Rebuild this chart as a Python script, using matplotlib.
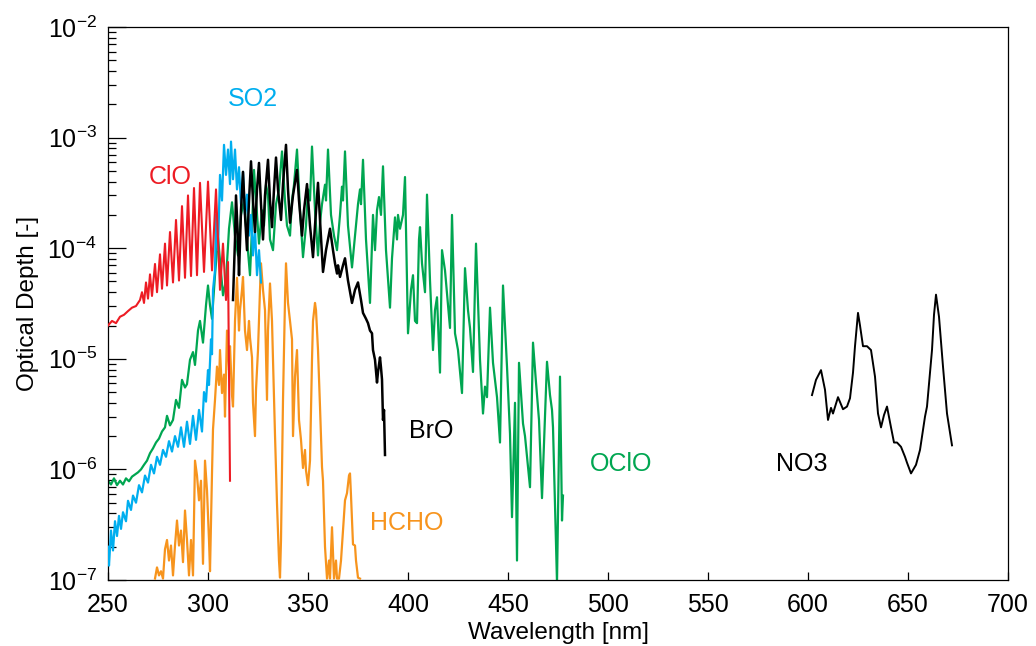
import math
import matplotlib
matplotlib.use("Agg")
import matplotlib.pyplot as plt
from matplotlib.ticker import FixedLocator, FuncFormatter, LogLocator, NullFormatter

plt.rcParams['font.family'] = ['Liberation Sans', 'DejaVu Sans']
plt.rcParams['mathtext.fontset'] = 'custom'
plt.rcParams['mathtext.rm'] = 'Liberation Sans'
plt.rcParams['mathtext.it'] = 'Liberation Sans:italic'
plt.rcParams['mathtext.bf'] = 'Liberation Sans:bold'

# ---- spectra (wavelength nm, optical depth) ----
clo_wl = [250.0, 252.0, 254.0, 256.0, 258.0, 260.0, 262.0, 264.0, 266.0, 267.0,
          268.0, 269.0, 270.0, 271.0, 272.0, 273.5, 274.5, 276.0, 277.0, 278.5,
          279.5, 281.0, 282.5, 284.0, 285.5, 287.0, 288.5, 290.0, 291.5, 293.0,
          294.5, 296.0, 298.0, 300.0, 302.0, 304.0, 306.0, 307.5, 309.0, 310.0, 311.0]
clo_od = [2.0e-5, 2.2e-5, 2.1e-5, 2.4e-5, 2.5e-5, 2.7e-5, 2.9e-5, 3.0e-5, 3.4e-5, 4.0e-5,
          3.2e-5, 4.9e-5, 3.5e-5, 5.8e-5, 3.7e-5, 7.2e-5, 4.0e-5, 8.8e-5, 4.3e-5, 1.1e-4,
          4.6e-5, 1.4e-4, 4.9e-5, 1.8e-4, 5.1e-5, 2.4e-4, 5.4e-5, 3.0e-4, 5.6e-5, 3.5e-4,
          5.7e-5, 3.9e-4, 6.1e-5, 4.0e-4, 6.3e-5, 3.4e-4, 4.2e-5, 1.1e-4, 3.4e-5, 7.5e-5, 7.9e-7]

so2_wl = [250.0, 250.5, 251.5, 252.5, 253.5, 254.5, 255.5, 256.5, 257.5, 259.0,
          260.0, 261.5, 262.5, 264.0, 265.5, 267.0, 268.5, 270.0, 271.5, 273.0,
          274.5, 276.0, 277.5, 279.0, 280.5, 282.0, 283.5, 285.0, 286.5, 288.0,
          289.5, 291.0, 292.5, 294.0, 295.5, 297.0, 298.0, 299.0, 300.0, 300.5,
          301.5, 302.0, 302.5, 303.5, 304.0, 305.0, 306.0, 307.0, 308.0, 309.0,
          310.0, 311.0, 311.5, 312.5, 313.5, 314.5, 315.5, 316.5, 317.5, 318.5,
          319.5, 320.5, 321.5, 322.5, 323.5, 324.5, 325.5, 326.5]
so2_od = [2.0e-7, 1.35e-7, 2.8e-7, 1.85e-7, 3.4e-7, 2.5e-7, 3.8e-7, 2.9e-7, 4.1e-7, 3.4e-7,
          5.2e-7, 4.3e-7, 5.8e-7, 5.0e-7, 7.2e-7, 6.2e-7, 8.8e-7, 7.6e-7, 1.1e-6, 9.2e-7,
          1.3e-6, 1.1e-6, 1.5e-6, 1.3e-6, 1.8e-6, 1.45e-6, 2.0e-6, 1.6e-6, 2.4e-6, 1.6e-6,
          2.7e-6, 1.7e-6, 3.05e-6, 1.85e-6, 3.45e-6, 2.2e-6, 5.0e-6, 4.1e-6, 7.9e-6, 5.8e-6,
          1.5e-5, 1.1e-5, 4.2e-5, 6.3e-5, 2.0e-4, 9.6e-5, 4.6e-4, 2.7e-4, 8.6e-4, 4.6e-4,
          7.8e-4, 3.8e-4, 9.2e-4, 4.2e-4, 7.8e-4, 3.4e-4, 5.4e-4, 2.5e-4, 4.9e-4, 2.0e-4,
          3.05e-4, 1.3e-4, 2.0e-4, 8.6e-5, 1.5e-4, 5.7e-5, 9.6e-5, 4.9e-5]

bro_wl = [312.5, 313.5, 314.0, 315.0, 315.5, 316.5, 317.5, 318.5, 319.5, 320.5,
          321.5, 322.5, 323.5, 324.5, 325.5, 326.5, 327.5, 328.5, 330.0, 331.0,
          332.0, 333.0, 334.0, 335.0, 336.5, 337.5, 339.0, 340.0, 341.0, 342.5,
          344.5, 345.5, 347.0, 348.0, 349.5, 351.0, 352.5, 353.5, 355.0, 356.0,
          357.5, 359.0, 361.0, 362.5, 363.5, 364.5, 365.0, 366.0, 367.5, 368.5,
          370.0, 372.0, 373.5, 375.0, 376.5, 377.5, 379.0, 380.0, 381.0, 382.0,
          382.5, 383.5, 384.5, 385.0, 386.0, 386.5, 387.0, 387.5, 388.0, 388.5]
bro_od = [3.4e-5, 1.2e-4, 3.0e-4, 1.2e-4, 5.7e-5, 2.2e-4, 4.9e-4, 2.0e-4, 9.6e-5, 2.7e-4,
          6.1e-4, 2.7e-4, 1.4e-4, 3.4e-4, 5.9e-4, 2.5e-4, 1.2e-4, 3.0e-4, 6.3e-4, 2.7e-4,
          1.55e-4, 3.4e-4, 6.6e-4, 3.4e-4, 1.8e-4, 3.8e-4, 8.6e-4, 3.4e-4, 1.7e-4, 3.0e-4,
          5.1e-4, 2.7e-4, 1.3e-4, 2.2e-4, 3.8e-4, 1.6e-4, 8.3e-5, 1.6e-4, 3.9e-4, 1.8e-4,
          6.1e-5, 9.6e-5, 1.5e-4, 9.6e-5, 7.3e-5, 5.9e-5, 7.0e-5, 5.5e-5, 7.0e-5, 8.1e-5,
          5.1e-5, 3.2e-5, 4.2e-5, 4.9e-5, 3.4e-5, 2.6e-5, 2.3e-5, 2.1e-5, 1.8e-5, 1.7e-5,
          1.2e-5, 9.8e-6, 6.1e-6, 7.6e-6, 1.03e-5, 8.3e-6, 6.5e-6, 2.8e-6, 3.45e-6, 1.35e-6]

oclo_wl = [250.0, 251.5, 253.0, 254.5, 256.0, 257.5, 259.0, 260.5, 262.0, 263.5,
           265.0, 266.5, 268.0, 269.5, 271.0, 272.5, 274.0, 275.5, 277.0, 278.5,
           279.5, 281.0, 282.5, 284.0, 285.5, 287.0, 288.5, 289.5, 291.0, 292.5,
           293.5, 295.0, 296.0, 297.5, 299.0, 300.0, 301.0, 302.0, 303.5, 305.0,
           306.0, 307.5, 309.0, 310.5, 312.0, 313.5, 315.0, 316.5, 318.0, 319.5,
           321.0, 322.0, 323.0, 324.5, 325.5, 327.0, 328.0, 329.0, 330.0, 331.0,
           332.5, 334.0, 335.5, 337.0, 338.5, 339.5, 341.0, 342.0, 343.0, 344.5,
           346.0, 347.5, 349.0, 350.0, 351.0, 352.0, 353.5, 355.0, 356.0, 357.0,
           358.5, 359.0, 360.0, 361.5, 363.0, 364.5, 366.0, 367.0, 367.5, 368.5,
           370.0, 372.0, 373.5, 375.0, 376.0, 376.5, 377.5, 379.0, 381.0, 382.5,
           383.5, 384.5, 385.5, 386.5, 387.5, 389.0, 391.0, 392.0, 393.5, 394.5,
           395.0, 396.0, 397.5, 398.5, 400.0, 401.5, 402.5, 403.5, 404.5, 405.5,
           406.0, 407.0, 408.5, 409.5, 411.0, 412.5, 413.5, 414.5, 416.0, 417.0,
           418.5, 421.0, 422.0, 423.5, 425.0, 427.0, 428.5, 430.0, 431.0, 432.5,
           434.0, 436.0, 437.5, 438.5, 439.5, 441.0, 442.5, 444.5, 446.0, 447.5,
           449.5, 451.0, 452.0, 453.5, 454.5, 455.5, 457.5, 458.5, 461.0, 462.5,
           464.0, 465.5, 467.0, 469.5, 471.0, 472.0, 472.5, 474.5, 476.0, 477.0, 477.5]
oclo_od = [7.9e-7, 7.3e-7, 8.3e-7, 7.2e-7, 7.9e-7, 7.3e-7, 8.3e-7, 7.8e-7, 8.6e-7, 9.0e-7,
           9.4e-7, 1.0e-6, 1.1e-6, 1.2e-6, 1.4e-6, 1.55e-6, 1.75e-6, 1.9e-6, 2.2e-6, 2.4e-6,
           3.05e-6, 2.5e-6, 2.8e-6, 4.25e-6, 3.6e-6, 6.45e-6, 5.5e-6, 5.9e-6, 9.8e-6, 1.15e-5,
           8.8e-6, 1.8e-5, 2.2e-5, 1.4e-5, 3.05e-5, 4.6e-5, 3.05e-5, 2.3e-5, 5.7e-5, 1.25e-4,
           7.8e-5, 3.75e-5, 5.1e-5, 1.5e-4, 2.6e-4, 1.3e-4, 8.6e-5, 2.0e-4, 2.7e-4, 1.2e-4,
           5.7e-5, 1.5e-4, 5.1e-4, 2.0e-4, 1.1e-4, 2.2e-4, 1.6e-4, 3.75e-4, 3.05e-4, 1.2e-4,
           9.6e-5, 2.5e-4, 3.4e-4, 7.5e-4, 2.7e-4, 1.6e-4, 1.3e-4, 2.7e-4, 3.75e-4, 7.8e-4,
           2.2e-4, 8.3e-5, 1.6e-4, 3.4e-4, 2.7e-4, 8.3e-4, 2.2e-4, 8.6e-5, 1.7e-4, 2.5e-4,
           3.75e-4, 2.7e-4, 7.8e-4, 2.0e-4, 1.3e-4, 9.6e-5, 2.0e-4, 3.6e-4, 2.7e-4, 7.5e-4,
           1.6e-4, 6.7e-5, 1.3e-4, 2.5e-4, 3.4e-4, 2.5e-4, 6.3e-4, 1.2e-4, 3.2e-5, 2.0e-4,
           9.6e-5, 2.2e-4, 2.9e-4, 2.0e-4, 5.5e-4, 9.6e-5, 2.9e-5, 8.1e-5, 1.9e-4, 1.2e-4,
           2.0e-4, 1.5e-4, 2.0e-4, 4.4e-4, 1.7e-5, 4.2e-5, 5.7e-5, 2.2e-5, 2.1e-5, 1.2e-4,
           1.55e-4, 7.3e-5, 4.0e-5, 3.05e-4, 5.1e-5, 1.2e-5, 2.75e-5, 3.6e-5, 7.5e-6, 9.6e-5,
           6.3e-5, 1.9e-5, 2.0e-4, 1.7e-5, 1.2e-5, 4.9e-6, 6.6e-5, 2.75e-5, 1.9e-5, 7.6e-6,
           1.1e-4, 9.8e-6, 3.2e-6, 5.6e-6, 4.5e-6, 2.9e-5, 9.2e-6, 4.5e-6, 1.75e-6, 4.6e-5,
           8.5e-6, 2.1e-6, 3.7e-7, 4.0e-6, 1.5e-7, 9.2e-6, 2.6e-6, 2.0e-6, 6.9e-7, 1.4e-5,
           6.1e-6, 2.8e-6, 5.5e-7, 9.4e-6, 4.7e-6, 3.45e-6, 2.4e-6, 9.5e-8, 6.9e-6, 3.45e-7, 5.8e-7]

hcho_wl = [273.5, 274.5, 275.5, 276.5, 277.5, 278.5, 279.5, 280.5, 281.5, 282.5,
           283.5, 284.5, 285.5, 286.5, 287.5, 288.5, 289.5, 290.5, 291.5, 292.5,
           293.5, 294.5, 295.5, 296.5, 297.5, 298.5, 299.5, 300.5, 301.0, 302.0,
           302.5, 303.5, 304.5, 305.5, 306.0, 307.0, 308.0, 308.5, 309.5, 310.5,
           311.0, 312.0, 312.5, 313.5, 314.5, 315.5, 316.0, 317.0, 317.5, 318.5,
           319.5, 320.5, 321.0, 322.0, 322.5, 323.5, 324.0, 325.0, 326.0, 326.5,
           327.5, 328.5, 329.5, 330.0, 331.0, 332.0, 332.5, 333.5, 334.5, 335.5,
           336.0, 336.5, 337.5, 338.5, 339.0, 340.0, 341.0, 342.0, 342.5, 343.5,
           344.5, 345.5, 346.5, 347.5, 348.5, 349.0, 350.0, 351.0, 352.0, 352.5,
           353.5, 354.0, 355.0, 356.0, 357.0, 357.5, 358.5, 359.5, 360.5, 361.0,
           362.0, 363.0, 364.0, 364.5, 365.5, 366.5, 367.5, 368.5, 369.5, 370.5,
           371.0, 371.5, 372.5, 373.5, 374.0, 375.0, 376.0]
hcho_od = [1.03e-7, 1.3e-7, 1.1e-7, 1.2e-7, 1.03e-7, 1.9e-7, 2.3e-7, 1.5e-7, 2.05e-7, 1.1e-7,
           2.05e-7, 3.45e-7, 2.05e-7, 2.8e-7, 1.45e-7, 4.25e-7, 2.3e-7, 1.1e-7, 2.3e-7, 1.1e-7,
           1.2e-6, 8.8e-7, 5.25e-7, 7.9e-7, 1.4e-7, 1.2e-6, 6.45e-7, 2.3e-7, 1.2e-7, 9.2e-7,
           2.3e-6, 4.25e-6, 8.5e-6, 5.8e-6, 1.2e-5, 4.9e-6, 7.2e-6, 3.0e-6, 1.8e-5, 7.9e-6,
           1.3e-5, 4.7e-6, 3.7e-6, 2.2e-5, 5.4e-5, 1.8e-5, 2.75e-5, 4.2e-5, 5.5e-5, 1.8e-5,
           1.2e-5, 2.2e-5, 1.55e-5, 1.03e-5, 4.0e-6, 2.0e-6, 5.25e-6, 1.2e-5, 4.2e-5, 7.3e-5,
           4.2e-5, 2.75e-5, 4.25e-6, 1.8e-5, 4.8e-5, 2.2e-5, 9.8e-6, 2.05e-6, 4.9e-7, 1.5e-7,
           1.05e-7, 2.3e-7, 4.25e-6, 3.4e-5, 7.3e-5, 3.2e-5, 2.2e-5, 1.5e-5, 2.0e-6, 6.9e-6,
           1.2e-5, 2.8e-6, 1.85e-6, 1.03e-6, 1.5e-6, 9.8e-7, 7.2e-7, 1.2e-6, 9.8e-6, 2.2e-5,
           3.2e-5, 2.75e-5, 1.2e-5, 3.7e-6, 1.05e-6, 7.9e-7, 2.0e-7, 1.03e-7, 1.5e-7, 1.03e-7,
           3.0e-7, 1.03e-7, 1.5e-7, 1.03e-7, 1.03e-7, 1.5e-7, 2.8e-7, 5.25e-7, 6.1e-7, 8.8e-7,
           9.2e-7, 5.8e-7, 2.1e-7, 2.05e-7, 1.5e-7, 1.05e-7, 1.03e-7]

no3_wl = [602.0, 604.0, 606.5, 608.5, 610.0, 611.5, 612.5, 615.0, 617.5, 619.5,
          621.0, 622.5, 623.5, 625.0, 626.0, 627.5, 629.5, 631.5, 633.5, 635.0,
          636.5, 638.0, 639.5, 641.5, 643.0, 644.5, 646.5, 648.5, 649.5, 651.5,
          654.0, 656.0, 658.5, 659.5, 662.0, 663.0, 664.0, 665.5, 667.5, 669.5, 672.0]
no3_od = [4.7e-6, 6.45e-6, 7.9e-6, 5.25e-6, 2.8e-6, 3.6e-6, 3.2e-6, 4.5e-6, 3.5e-6, 3.7e-6,
          4.4e-6, 7.5e-6, 1.3e-5, 2.6e-5, 2.0e-5, 1.3e-5, 1.3e-5, 1.2e-5, 6.9e-6, 3.2e-6,
          2.4e-6, 3.1e-6, 3.7e-6, 2.4e-6, 1.75e-6, 1.75e-6, 1.6e-6, 1.3e-6, 1.15e-6, 9.2e-7,
          1.1e-6, 1.5e-6, 3.0e-6, 3.7e-6, 1.2e-5, 2.5e-5, 3.8e-5, 2.4e-5, 8.5e-6, 3.2e-6, 1.65e-6]

RED = '#ED1C24'
BLUE = '#00AEEF'
GREEN = '#00A651'
ORANGE = '#F7941D'

fig = plt.figure(figsize=(10.36, 6.46), dpi=100)
ax = fig.add_axes([108 / 1036, 1 - 580 / 646, 900 / 1036, 553 / 646])

ax.plot(oclo_wl, oclo_od, color=GREEN, lw=1.6, zorder=2)
ax.plot(hcho_wl, hcho_od, color=ORANGE, lw=1.6, zorder=3)
ax.plot(so2_wl, so2_od, color=BLUE, lw=1.6, zorder=4)
ax.plot(bro_wl, bro_od, color='black', lw=1.8, zorder=5)
ax.plot(clo_wl, clo_od, color=RED, lw=1.5, zorder=6)
ax.plot(no3_wl, no3_od, color='black', lw=1.4, zorder=5)

ax.set_yscale('log')
ax.set_xlim(250, 700)
ax.set_ylim(1e-7, 1e-2)

ax.xaxis.set_major_locator(FixedLocator([250, 300, 350, 400, 450, 500, 550, 600, 650, 700]))
ax.yaxis.set_major_locator(FixedLocator([1e-7, 1e-6, 1e-5, 1e-4, 1e-3, 1e-2]))
ax.yaxis.set_major_formatter(FuncFormatter(lambda v, p: r'$\mathregular{10^{%d}}$' % round(math.log10(v))))
ax.yaxis.set_minor_locator(LogLocator(base=10, subs=range(2, 10)))
ax.yaxis.set_minor_formatter(NullFormatter())

ax.tick_params(axis='x', which='major', direction='in', length=6, width=0.9,
               labelsize=18, pad=9, top=False)
ax.tick_params(axis='y', which='major', direction='in', length=13, width=0.9,
               labelsize=18, pad=8, right=False)
ax.tick_params(axis='y', which='minor', direction='in', length=6, width=0.9, right=False)
for s in ax.spines.values():
    s.set_linewidth(0.9)

ax.set_xlabel('Wavelength [nm]', fontsize=17.5, labelpad=4)
ax.set_ylabel('Optical Depth [-]', fontsize=17.5, labelpad=6)

ax.text(281, 3.8e-4, 'ClO', color=RED, fontsize=18, ha='center', va='baseline')
ax.text(322.5, 1.93e-3, 'SO2', color=BLUE, fontsize=18, ha='center', va='baseline')
ax.text(411.5, 1.93e-6, 'BrO', color='black', fontsize=18, ha='center', va='baseline')
ax.text(506.5, 9.7e-7, 'OClO', color=GREEN, fontsize=18, ha='center', va='baseline')
ax.text(597, 9.7e-7, 'NO3', color='black', fontsize=18, ha='center', va='baseline')
ax.text(399.5, 2.85e-7, 'HCHO', color=ORANGE, fontsize=18, ha='center', va='baseline')

fig.savefig('out.png', dpi=100)
